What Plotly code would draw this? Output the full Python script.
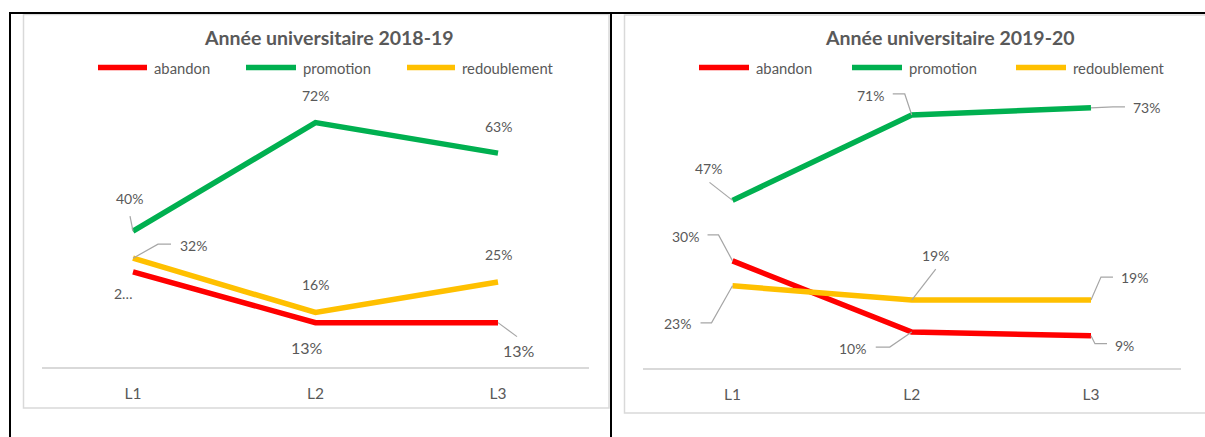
import plotly.graph_objects as go

W, H = 1205, 437

levels = ["L1", "L2", "L3"]
series = ["abandon", "promotion", "redoublement"]
titles = ["Année universitaire 2018-19", "Année universitaire 2019-20"]

abandon_2018 = [28, 13, 13]
promotion_2018 = [40, 72, 63]
redoublement_2018 = [32, 16, 25]

abandon_2019 = [30, 10, 9]
promotion_2019 = [47, 71, 73]
redoublement_2019 = [23, 19, 19]

panels = [
    {"abandon": abandon_2018, "promotion": promotion_2018, "redoublement": redoublement_2018},
    {"abandon": abandon_2019, "promotion": promotion_2019, "redoublement": redoublement_2019},
]

COLORS = {"abandon": "#ff0000", "promotion": "#00b050", "redoublement": "#ffc000"}
FONT = "Lato, 'Open Sans', sans-serif"
TXT = "#595959"
LEADER = "#a6a6a6"

# label offsets in px (dx right, dy up) and optional leader path, per point
LABELS = [
    {
        "abandon": [(-10, -22, None), (-9, -25, None), (21, -28, [(19, -14)])],
        "promotion": [(-4, 33, [(-3, 15)]), (0, 27, None), (0, 27, None)],
        "redoublement": [(60, 13, [(25, 14), (38, 14)]), (0, 28, None), (0, 27, None)],
    },
    {
        "abandon": [(-47, 24, [(-14, 26), (-25, 26)]), (-59, -16, [(-22, -15), (-36, -15)]),
                    (34, -10, [(4, -8), (16, -8)])],
        "promotion": [(-24, 32, [(-23, 18)]), (-41, 19, [(-7, 21), (-19, 21)]),
                      (56, 0, [(22, 1), (34, 1)])],
        "redoublement": [(-55, -38, [(-21, -37), (-32, -37)]), (24, 45, [(24, 31)]),
                         (44, 23, [(10, 23), (22, 23)])],
    },
]
TEXT_OVERRIDE = {(0, "abandon", 0): "2…"}
SIZE_OVERRIDE = {(0, "abandon", 1): 16, (0, "abandon", 2): 16}

# pixel geometry of each panel: x of the band edges, y of 0 and of the top of range
PANEL_X = [(41.75, 589.25), (642.9, 1180.6)]
PANEL_Y = [(366.7, 95.5), (367.7, 82.9)]
TITLE_POS = [(329, 38), (950, 38)]
LEGEND_POS = [[(96, 154), (244, 303), (405, 462)], [(697, 756), (850, 909), (1014, 1073)]]


def px(x):
    return x / W


def py(y):
    return 1 - y / H


fig = go.Figure()
annotations = []
shapes = []

for p, data in enumerate(panels):
    xa = "x" if p == 0 else "x2"
    ya = "y" if p == 0 else "y2"
    for name in series:
        fig.add_trace(go.Scatter(
            x=levels, y=data[name], name=name, mode="lines",
            line={"color": COLORS[name], "width": 5.5},
            xaxis=xa, yaxis=ya, showlegend=False,
            hovertemplate=f"{name}: %{{y}}%<extra></extra>",
        ))
        for i, (lvl, val) in enumerate(zip(levels, data[name])):
            dx, dy, path = LABELS[p][name][i]
            annotations.append(dict(
                x=lvl, y=val, xref=xa, yref=ya, showarrow=False,
                text=TEXT_OVERRIDE.get((p, name, i), f"{val}%"),
                xshift=dx, yshift=dy, xanchor="center", yanchor="middle",
                font={"family": FONT, "size": SIZE_OVERRIDE.get((p, name, i), 14), "color": TXT},
            ))
            if path:
                d = "M0,0 " + " ".join(f"L{a},{b}" for a, b in path)
                shapes.append(dict(
                    type="path", path=d, xref=xa, yref=ya,
                    xsizemode="pixel", ysizemode="pixel", xanchor=lvl, yanchor=val,
                    line={"color": LEADER, "width": 1.2},
                ))

    # title
    tx, ty = TITLE_POS[p]
    annotations.append(dict(
        x=px(tx), y=py(ty), xref="paper", yref="paper", showarrow=False,
        xanchor="center", yanchor="middle",
        text=f"<b>{titles[p]}</b>", font={"family": FONT, "size": 19.5, "color": TXT},
    ))
    # legend
    for name, (lx, tx) in zip(series, LEGEND_POS[p]):
        shapes.append(dict(
            type="line", xref="paper", yref="paper",
            x0=px(lx + 2), x1=px(tx - 7), y0=py(67.5), y1=py(67.5),
            line={"color": COLORS[name], "width": 5.5},
        ))
        annotations.append(dict(
            x=px(tx - 2), y=py(67.5), xref="paper", yref="paper", showarrow=False,
            xanchor="left", yanchor="middle", text=name,
            font={"family": FONT, "size": 14.8, "color": TXT},
        ))

# chart frames
shapes.append(dict(type="rect", xref="paper", yref="paper", x0=px(23.5), x1=px(609),
                   y0=py(408), y1=py(14.5), line={"color": "#d9d9d9", "width": 1.5}, layer="below"))
shapes.append(dict(type="rect", xref="paper", yref="paper", x0=px(624.5), x1=px(1215),
                   y0=py(413), y1=py(15), line={"color": "#d9d9d9", "width": 1.5}, layer="below"))
# black table borders
for x0, y0, x1, y1 in [(9, 13, 1205, 13), (10, 13, 10, 437), (611, 13, 611, 437)]:
    shapes.append(dict(type="line", xref="paper", yref="paper", x0=px(x0), x1=px(x1),
                       y0=py(y0), y1=py(y1), line={"color": "#000000", "width": 2}))

layout_axes = {}
for p in range(2):
    sx = "" if p == 0 else "2"
    x0, x1 = PANEL_X[p]
    y0, y1 = PANEL_Y[p]
    layout_axes[f"xaxis{sx}"] = dict(
        domain=[px(x0), px(x1)], type="category", range=[-0.5, 2.5],
        showgrid=False, zeroline=False, showline=True, linecolor="#d9d9d9", linewidth=1.5,
        ticks="outside", ticklen=12, tickcolor="rgba(0,0,0,0)",
        tickfont={"family": FONT, "size": 15.5, "color": TXT}, anchor=f"y{sx}",
    )
    layout_axes[f"yaxis{sx}"] = dict(
        domain=[py(y0), py(y1)], range=[0, 80], visible=False, anchor=f"x{sx}",
    )

fig.update_layout(
    width=W, height=H, margin={"l": 0, "r": 0, "t": 0, "b": 0},
    paper_bgcolor="white", plot_bgcolor="white",
    showlegend=False, annotations=annotations, shapes=shapes,
    font={"family": FONT},
    **layout_axes,
)

fig.write_html("out.html", config={"displayModeBar": False},
               post_script="document.body.style.margin='0';")
